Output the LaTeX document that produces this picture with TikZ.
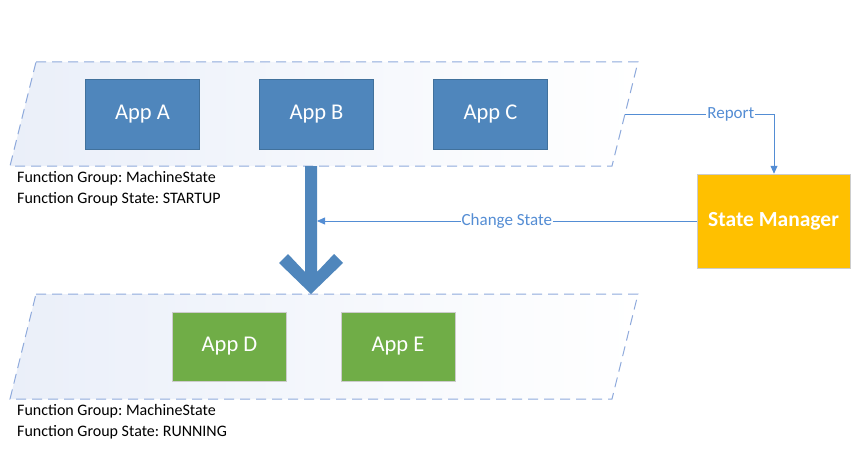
\documentclass[tikz,border=0pt]{standalone}
\usepackage{fontspec}
\setmainfont{Carlito}
\frenchspacing
\usetikzlibrary{arrows.meta}
\definecolor{appblue}{RGB}{79,134,188}
\definecolor{appborder}{RGB}{65,113,156}
\definecolor{appgreen}{RGB}{112,173,71}
\definecolor{mgrgold}{RGB}{255,192,0}
\definecolor{linkblue}{RGB}{84,141,212}
\definecolor{dashblue}{RGB}{143,170,220}
\definecolor{groupfill}{RGB}{234,239,249}
\tikzset{
  groupbox/.style={draw=dashblue, line width=1pt, dash pattern=on 10pt off 6pt, left color=groupfill, right color=white},
  appbox/.style={draw=appborder, fill=appblue, line width=0.5pt, minimum width=114pt, minimum height=70pt, text=white, font=\fontsize{22.5}{26}\selectfont, inner sep=0pt},
  greenbox/.style={draw=black!20, fill=appgreen, line width=0.5pt, minimum width=114pt, minimum height=69pt, text=white, font=\fontsize{22.5}{26}\selectfont, inner sep=0pt},
  mgrbox/.style={draw=black!20, fill=mgrgold, line width=0.5pt, minimum width=153pt, minimum height=94pt, text=white, font=\fontsize{21.5}{25}\selectfont\bfseries, inner sep=0pt},
  infotext/.style={align=left, anchor=north west, font=\fontsize{16}{20.5}\selectfont, inner sep=0pt},
  link/.style={draw=linkblue, line width=0.8pt},
  linklabel/.style={fill=white, text=linkblue, font=\fontsize{17}{20}\selectfont, inner sep=1pt}
}
\begin{document}
\begin{tikzpicture}[x=1pt,y=-1pt]
\useasboundingbox (0,0) rectangle (865,452);
% group containers
\path[groupbox] (36,62) -- (638,62) -- (612,166) -- (10,166) -- cycle;
\path[groupbox] (36,294) -- (638,294) -- (612,399) -- (10,399) -- cycle;
\coordinate (reportstart) at (625,114);
% apps
\node[appbox] (appA) at (142.5,114) {App A};
\node[appbox] (appB) at (316.5,114) {App B};
\node[appbox] (appC) at (490.5,114) {App C};
\node[greenbox] (appD) at (229.5,346.5) {App D};
\node[greenbox] (appE) at (398,346.5) {App E};
\node[mgrbox] (mgr) at (773.5,221) {State Manager};
% info texts
\node[infotext] (info1) at (17,171.5) {Function Group: MachineState\\Function Group State: STARTUP};
\node[infotext] (info2) at (17,404.5) {Function Group: MachineState\\Function Group State: RUNNING};
% big transition arrow
\fill[appblue] (305,166) -- (305,272) -- (288,254) -- (279,263) -- (311,294) -- (343,263) -- (334,254) -- (317,272) -- (317,166) -- cycle;
\coordinate (shaft) at (317,221);
% connectors
\draw[link, -{Triangle[length=8pt,width=7pt]}] (reportstart) -- (774,114) node[linklabel, pos=0.71] {Report} -- (mgr.north -| 774,0);
\draw[link, -{Triangle[length=8pt,width=7pt]}] (mgr.west) -- node[linklabel, pos=0.5] {Change State} (shaft);
\end{tikzpicture}
\end{document}
